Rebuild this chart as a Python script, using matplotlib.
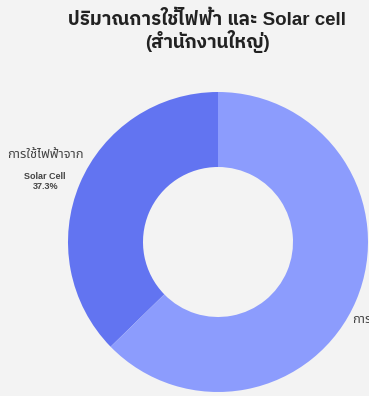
import matplotlib
matplotlib.use("Agg")
import matplotlib.pyplot as plt

# data
labels = ["การใช้ไฟฟ้าจาก", "การใช้ไฟฟ้าจาก"]
sources = ["Solar Cell", "การไฟฟ้า"]
values = [37.3, 62.7]
colors = ["#6274f1", "#8c9cfd"]
title = "ปริมาณการใช้ไฟฟ้า และ Solar cell\n(สำนักงานใหญ่)"

BG = "#f3f3f3"
TITLE_FONT = ["Liberation Sans", "IBM Plex Sans Thai"]
LABEL_FONT = ["Liberation Sans", "Noto Sans Thai"]

fig = plt.figure(figsize=(3.69, 3.96), dpi=100, facecolor=BG)
# square axes: donut centre ~ (218, 242) px, outer radius ~150 px
ax = fig.add_axes([68 / 369, 4 / 396, 300 / 369, 300 / 396])
ax.set_facecolor(BG)

wedges, txt = ax.pie(values, colors=colors, startangle=90, counterclock=True,
                     radius=1.0, labels=labels, labeldistance=1.25,
                     wedgeprops=dict(width=0.5, linewidth=0),
                     textprops=dict(fontsize=9.3, color="#444444",
                                    family=LABEL_FONT))
# the labels sit a little off the pure radial spot in the reference
nudge = [0.055, -0.075]
for t, src, v, dy in zip(txt, sources, values, nudge):
    x, y = t.get_position()
    t.set_position((x, y + dy))
    t.set_ha("center")
    t.set_va("bottom")
    ax.annotate(f"{src}\n{v:.1f}%", (x, y + dy), xytext=(0, -8),
                textcoords="offset points", ha="center", va="top",
                fontsize=6.5, color="#444444", family=LABEL_FONT,
                fontweight="bold", linespacing=1.2, annotation_clip=False)
ax.set_xlim(-1, 1)
ax.set_ylim(-1, 1)
ax.set_aspect("equal")
ax.axis("off")

fig.text(207 / 369, 1 - 11 / 396, title, ha="center", va="top",
         fontsize=13.5, fontweight="bold", color="#222222",
         family=TITLE_FONT, linespacing=1.05)

fig.savefig("out.png", dpi=100, facecolor=BG)
